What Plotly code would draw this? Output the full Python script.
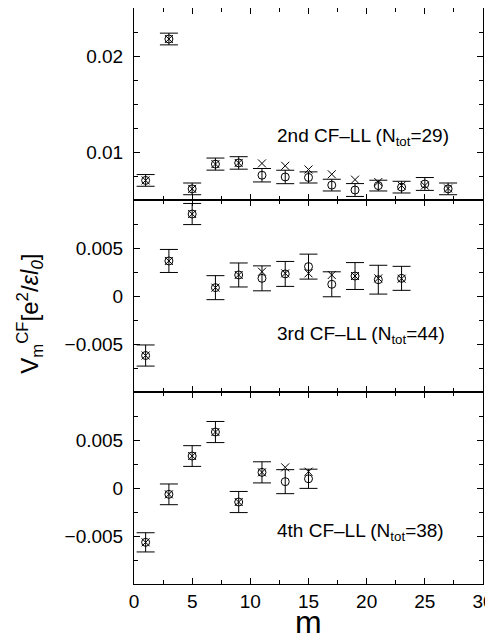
import plotly.graph_objects as go
from plotly.subplots import make_subplots

# ---- data ----
m_2nd = [1, 3, 5, 7, 9, 11, 13, 15, 17, 19, 21, 23, 25, 27]
circ_2nd = [0.00704, 0.02177, 0.00616, 0.00874, 0.00886, 0.00758, 0.0074, 0.00735,
            0.00655, 0.00604, 0.0065, 0.00634, 0.00667, 0.00616]
cross_2nd = [0.00704, 0.02177, 0.00616, 0.00874, 0.00886, 0.00881, 0.00856, 0.00818,
             0.00768, 0.00712, 0.00687, 0.0065, 0.0065, 0.0062]
err_2nd = [0.00061, 0.00061, 0.00061, 0.00063, 0.00065, 0.0007, 0.0007, 0.00058,
           0.00061, 0.00067, 0.00056, 0.00061, 0.00067, 0.00061]

m_3rd = [1, 3, 5, 7, 9, 11, 13, 15, 17, 19, 21, 23]
circ_3rd = [-0.0062, 0.00365, 0.00854, 0.00087, 0.00219, 0.00184, 0.0023, 0.00306,
            0.00122, 0.00208, 0.0017, 0.00184]
cross_3rd = [-0.0062, 0.00365, 0.00854, 0.00087, 0.00219, 0.00253, 0.00236, 0.00236,
             0.00219, 0.00208, 0.00184, 0.0018]
err_3rd = [0.0011, 0.0012, 0.0011, 0.00125, 0.00125, 0.0013, 0.0013, 0.0013,
           0.0013, 0.0014, 0.0015, 0.00125]

m_4th = [1, 3, 5, 7, 9, 11, 13, 15]
circ_4th = [-0.00566, -0.00066, 0.00333, 0.00583, -0.00146, 0.00163, 0.00066, 0.00096]
cross_4th = [-0.00566, -0.00066, 0.00333, 0.00583, -0.00146, 0.00163, 0.00215, 0.0017]
err_4th = [0.001, 0.00108, 0.00108, 0.0011, 0.0011, 0.0011, 0.00125, 0.001]

labels = ["2nd CF\u2013LL (N<sub>tot</sub>=29)",
          "3rd CF\u2013LL (N<sub>tot</sub>=44)",
          "4th CF\u2013LL (N<sub>tot</sub>=38)"]
label_pos = [(12.1, 0.01158), (12.1, -0.00406), (12.1, -0.00455)]

x_ticks = [0, 5, 10, 15, 20, 25, 30]
y_ticks_top = [0.01, 0.02]
y_ticks_low = [-0.005, 0, 0.005]
y_text_low = ["\u22120.005", "0", "0.005"]

FONT = "Liberation Sans, Arial, sans-serif"

fig = make_subplots(rows=3, cols=1, shared_xaxes=True, vertical_spacing=0)

panels = [(m_2nd, circ_2nd, cross_2nd, err_2nd),
          (m_3rd, circ_3rd, cross_3rd, err_3rd),
          (m_4th, circ_4th, cross_4th, err_4th)]

for i, (mm, cc, xx, ee) in enumerate(panels, start=1):
    fig.add_trace(go.Scatter(
        x=mm, y=cc, mode="markers",
        marker=dict(symbol="circle-open", size=8, color="black", line=dict(width=1)),
        error_y=dict(type="data", array=ee, visible=True, color="black",
                     thickness=1, width=9),
        showlegend=False, hoverinfo="skip"), row=i, col=1)
    fig.add_trace(go.Scatter(
        x=mm, y=xx, mode="markers",
        marker=dict(symbol="x-thin-open", size=8, color="black", line=dict(width=1, color="black")),
        showlegend=False, hoverinfo="skip"), row=i, col=1)

axis_common = dict(showline=True, linecolor="black", linewidth=1, mirror="allticks",
                   ticks="inside", ticklen=6, tickcolor="black", tickwidth=1,
                   showgrid=False, zeroline=False,
                   tickfont=dict(family=FONT, size=19, color="black"))

for i in range(1, 4):
    fig.update_xaxes(range=[0, 30], tickmode="array", tickvals=x_ticks,
                     minor=dict(tickmode="linear", tick0=0, dtick=2.5, ticks="inside",
                                ticklen=4, tickcolor="black", tickwidth=1),
                     **axis_common, row=i, col=1)

fig.update_yaxes(range=[0.005, 0.025], tickmode="array", tickvals=y_ticks_top,
                 ticktext=["0.01", "0.02"],
                 minor=dict(tickmode="linear", tick0=0, dtick=0.0025, ticks="inside",
                            ticklen=4, tickcolor="black", tickwidth=1),
                 ticklabelstandoff=6, **axis_common, row=1, col=1)
for i in (2, 3):
    fig.update_yaxes(range=[-0.01, 0.01], tickmode="array", tickvals=y_ticks_low,
                     ticktext=y_text_low,
                     minor=dict(tickmode="linear", tick0=0, dtick=0.0025, ticks="inside",
                                ticklen=4, tickcolor="black", tickwidth=1),
                     ticklabelstandoff=6, **axis_common, row=i, col=1)

for i, (txt, (ax, ay)) in enumerate(zip(labels, label_pos), start=1):
    yref = "y" if i == 1 else f"y{i}"
    xref = "x" if i == 1 else f"x{i}"
    fig.add_annotation(x=ax, y=ay, xref=xref, yref=yref, text=txt, showarrow=False,
                       xanchor="left", yanchor="middle",
                       font=dict(family=FONT, size=19, color="black"))

# axis titles
fig.add_annotation(text="V<sub>m</sub><sup>CF</sup>[e<sup>2</sup>/<i>\u03b5l</i><sub><i>0</i></sub>]",
                   xref="paper", yref="paper", x=-0.298, y=0.469, textangle=-90,
                   showarrow=False, xanchor="center", yanchor="middle",
                   font=dict(family=FONT, size=24, color="black"))
fig.add_annotation(text="m", xref="paper", yref="paper", x=0.5, y=-0.066,
                   showarrow=False, xanchor="center", yanchor="middle",
                   font=dict(family=FONT, size=32, color="black"))

fig.update_layout(width=493, height=640,
                  margin=dict(l=126, r=18, t=0, b=64, autoexpand=False),
                  paper_bgcolor="white", plot_bgcolor="white",
                  font=dict(family=FONT, color="black"))

fig.write_html("out.html")
